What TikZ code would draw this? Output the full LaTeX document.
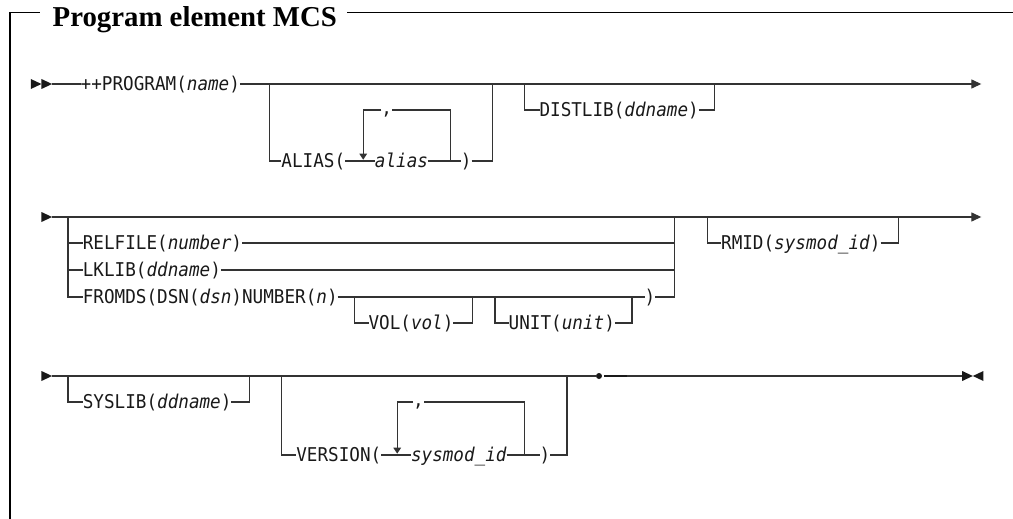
\documentclass[tikz,border=0pt]{standalone}
\usepackage{fontspec}
\usetikzlibrary{arrows.meta}
\newfontfamily\railfont[FakeStretch=0.928]{DejaVu Sans Mono}
\newfontfamily\headfont{Liberation Serif}
\definecolor{railgray}{rgb}{0.2,0.2,0.2}

\begin{document}
\begin{tikzpicture}[x=1pt, y=-1pt,
    rail/.style={line width=1.3pt, draw=railgray},
    kw/.style={font=\railfont\fontsize{19}{22}\selectfont, text=black!90,
      inner sep=0pt, outer sep=0pt, text height=13.85pt, text depth=0pt, anchor=west},
    commakey/.style={kw, text height=8pt},
    loopdown/.style={rail, -{Triangle[length=6pt,width=7.5pt]}, shorten >=1.3pt},
    railend/.style={rail, -{Triangle[length=10pt,width=9pt]}},
    railtip/.style={fill=black!90}]
  \useasboundingbox (0,0) rectangle (1013,519);
  % heading and frame
  \node[anchor=base west, inner sep=0pt, font=\headfont\bfseries\fontsize{28.8}{30}\selectfont]
    (head) at (52.5,26.7) {Program element MCS};
  \draw[line width=1.5pt] (10,519) -- (10,12.5) -- (40,12.5);
  \draw[line width=1.5pt] (347,12.5) -- (1013,12.5);

  \begin{scope}[x=10.62pt, xshift=68pt]
    % row 1
    \fill[railtip] (-3.5,79) -- (-2.5,84) -- (-3.5,89) -- cycle;
    \fill[railtip] (-2.5,79) -- (-1.5,84) -- (-2.5,89) -- cycle;
    \coordinate (st1) at (-1.5,84);
    \coordinate (a1) at (19,84);
    \coordinate (a2) at (40,84);
    \coordinate (l1) at (27.8,110);
    \coordinate (l2) at (36,110);
    \coordinate (d1) at (43,84);
    \coordinate (d2) at (60.9,84);
    \coordinate (fin1) at (86,84);
    \node[kw] (prog) at (1.2,84) {++PROGRAM(\textit{name})};
    \node[kw] (alias) at (20.1,161) {ALIAS(};
    \node[kw] (aliasv) at (28.9,161) {\textit{alias}};
    \node[kw] (aliasc) at (37,161) {)};
    \node[commakey] (comma1) at (29.5,110) {,};
    \node[kw] (distlib) at (44.4,110) {DISTLIB(\textit{ddname})};
    \draw[rail] (st1) -- (prog.west);
    \draw[railend] (prog.east) -- (fin1);
    \draw[rail] (a1) |- (alias.west);
    \draw[rail] (alias.east) -- (aliasv.west);
    \draw[rail] (aliasv.east) -- (aliasc.west);
    \draw[rail] (aliasc.east) -| (a2);
    \draw[rail] (aliasv.east) -| (l2) -- (comma1.east);
    \draw[rail] (comma1.west) -- (l1);
    \draw[loopdown] (l1) -- (l1 |- alias.west);
    \draw[rail] (d1) |- (distlib.west);
    \draw[rail] (distlib.east) -| (d2);

    % row 2
    \fill[railtip] (-2.5,212) -- (-1.5,217) -- (-2.5,222) -- cycle;
    \coordinate (st2) at (-1.5,217);
    \coordinate (g1) at (0,217);
    \coordinate (g2) at (57.1,217);
    \coordinate (v1) at (27,297);
    \coordinate (v2) at (38.1,297);
    \coordinate (u1) at (40.2,297);
    \coordinate (u2) at (53.1,297);
    \coordinate (r1) at (60.2,217);
    \coordinate (r2) at (78.2,217);
    \coordinate (fin2) at (86,217);
    \node[kw] (relfile) at (1.4,243) {RELFILE(\textit{number})};
    \node[kw] (lklib) at (1.4,270) {LKLIB(\textit{ddname})};
    \node[kw] (fromds) at (1.4,297) {FROMDS(DSN(\textit{dsn})NUMBER(\textit{n})};
    \node[kw] (fromdsc) at (54.3,297) {)};
    \node[kw] (vol) at (28.3,323) {VOL(\textit{vol})};
    \node[kw] (unit) at (41.5,323) {UNIT(\textit{unit})};
    \node[kw] (rmid) at (61.5,243) {RMID(\textit{sysmod\_id})};
    \draw[railend] (st2) -- (fin2);
    \draw[rail] (g1) |- (relfile.west);
    \draw[rail] (g1) |- (lklib.west);
    \draw[rail] (g1) |- (fromds.west);
    \draw[rail] (relfile.east) -| (g2);
    \draw[rail] (lklib.east) -| (g2);
    \draw[rail] (fromds.east) -- (fromdsc.west);
    \draw[rail] (fromdsc.east) -| (g2);
    \draw[rail] (v1) |- (vol.west);
    \draw[rail] (vol.east) -| (v2);
    \draw[rail] (u1) |- (unit.west);
    \draw[rail] (unit.east) -| (u2);
    \draw[rail] (r1) |- (rmid.west);
    \draw[rail] (rmid.east) -| (r2);

    % row 3
    \fill[railtip] (-2.5,371) -- (-1.5,376) -- (-2.5,381) -- cycle;
    \coordinate (st3) at (-1.5,376);
    \coordinate (y1) at (0,376);
    \coordinate (y2) at (17.1,376);
    \coordinate (w1) at (20.1,376);
    \coordinate (w2) at (47,376);
    \coordinate (m1) at (31,402);
    \coordinate (m2) at (43,402);
    \coordinate (k1) at (50.45,376);
    \coordinate (k2) at (52.6,376);
    \coordinate (fin3) at (84.2,376);
    \node[kw] (syslib) at (1.4,402) {SYSLIB(\textit{ddname})};
    \node[kw] (version) at (21.5,455) {VERSION(};
    \node[kw] (versionv) at (32.3,455) {\textit{sysmod\_id}};
    \node[kw] (versionc) at (44.4,455) {)};
    \node[commakey] (comma2) at (32.5,402) {,};
    \node[circle, fill=black!90, inner sep=0pt, minimum size=6pt] (dot) at (50,376) {};
    \draw[rail] (st3) -- (dot.west);
    \draw[rail] (y1) |- (syslib.west);
    \draw[rail] (syslib.east) -| (y2);
    \draw[rail] (w1) |- (version.west);
    \draw[rail] (version.east) -- (versionv.west);
    \draw[rail] (versionv.east) -- (versionc.west);
    \draw[rail] (versionc.east) -| (w2);
    \draw[rail] (versionv.east) -| (m2) -- (comma2.east);
    \draw[rail] (comma2.west) -- (m1);
    \draw[loopdown] (m1) -- (m1 |- version.west);
    \draw[rail, line width=2.6pt, draw=black!90] (k1) -- (k2);
    \draw[rail] (k2) -- (fin3);
    \fill[railtip] (84.2,371) -- (85.2,376) -- (84.2,381) -- cycle;
    \fill[railtip] (86.2,371) -- (85.2,376) -- (86.2,381) -- cycle;
  \end{scope}
\end{tikzpicture}
\end{document}
